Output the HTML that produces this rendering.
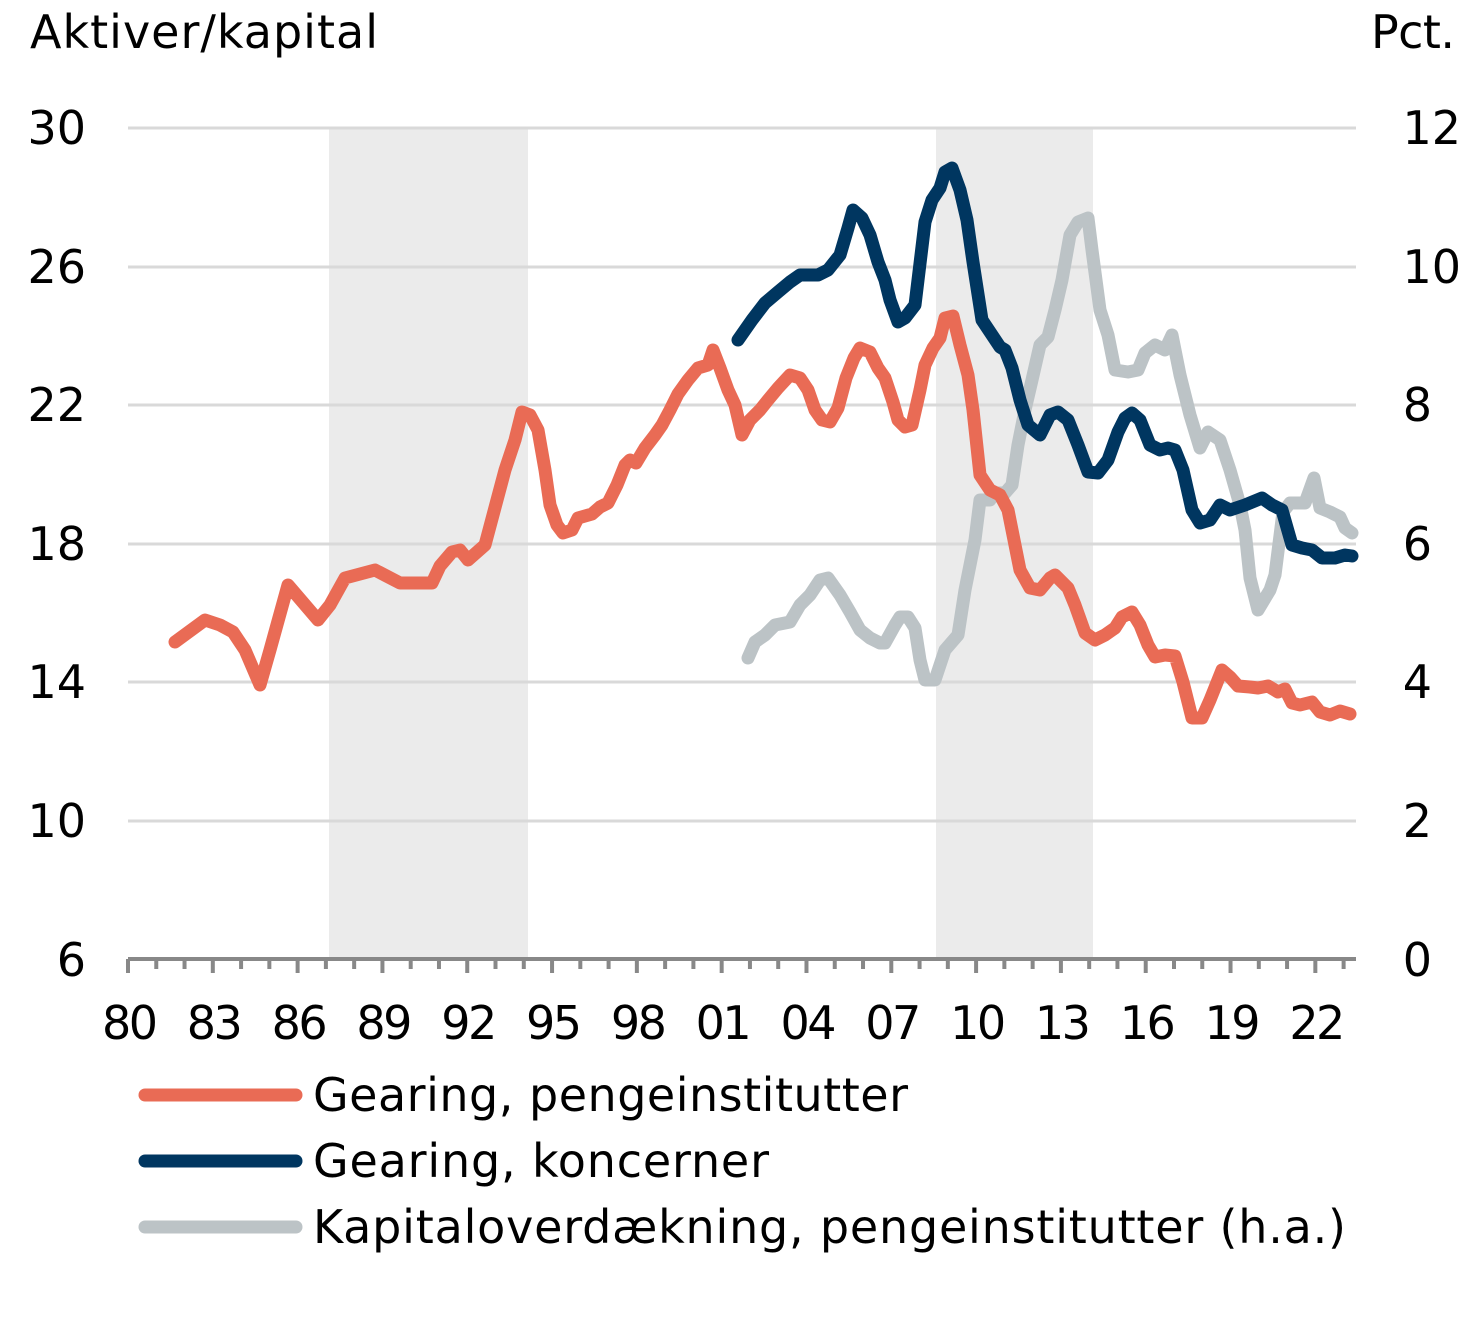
<!DOCTYPE html>
<html><head><meta charset="utf-8"><style>
body{margin:0;background:#fff}
svg{display:block}
text{font-family:"DejaVu Sans","Liberation Sans",sans-serif;fill:#000}
</style></head><body>
<svg width="1477" height="1333" viewBox="0 0 1477 1333" xmlns="http://www.w3.org/2000/svg">
<rect x="329" y="128" width="199" height="832" fill="#ebebeb"/>
<rect x="936" y="128" width="157" height="832" fill="#ebebeb"/>
<g stroke="#d9d9d9" stroke-width="3">
<line x1="128" x2="1356" y1="128" y2="128"/><line x1="128" x2="1356" y1="267" y2="267"/>
<line x1="128" x2="1356" y1="405" y2="405"/><line x1="128" x2="1356" y1="544" y2="544"/>
<line x1="128" x2="1356" y1="682" y2="682"/><line x1="128" x2="1356" y1="821" y2="821"/>
</g>
<g stroke="#888" stroke-width="4">
<line x1="128" x2="1356" y1="959" y2="959"/>
</g>
<g stroke="#888" stroke-width="4" id="ticks"></g>
<g font-size="46">
<text x="30" y="48" textLength="348">Aktiver/kapital</text>
<text x="1371" y="48" textLength="84">Pct.</text>
<g text-anchor="end">
<text x="86" y="144">30</text><text x="86" y="283">26</text><text x="86" y="421">22</text>
<text x="86" y="560">18</text><text x="86" y="698">14</text><text x="86" y="837">10</text><text x="86" y="976">6</text>
</g>
<g text-anchor="end">
<text x="1461" y="144">12</text><text x="1461" y="283">10</text><text x="1432" y="421">8</text>
<text x="1432" y="560">6</text><text x="1432" y="698">4</text><text x="1432" y="837">2</text><text x="1432" y="976">0</text>
</g>
<g text-anchor="middle" id="xl"></g>
</g>
<g fill="none" stroke-width="13" stroke-linejoin="round" stroke-linecap="round">
<polyline stroke="#bcc3c6" points="748,658 755,642 765,635 775,625 790,622 800,605 810,595 820,580 828,578 840,595 850,612 860,630 870,638 880,643 885,643 895,625 900,617 908,617 915,628 920,660 925,680 935,680 945,650 958,635 965,590 975,540 980,500 990,500 995,493 1005,493 1012,485 1018,445 1025,410 1032,380 1040,345 1048,337 1055,310 1062,280 1070,235 1078,222 1088,218 1092,250 1100,310 1108,335 1115,370 1128,372 1138,370 1145,353 1155,345 1165,350 1172,335 1180,375 1190,415 1200,448 1208,432 1220,440 1230,470 1240,505 1245,530 1250,578 1258,610 1270,590 1275,575 1283,512 1290,503 1305,503 1314,478 1320,508 1330,512 1340,517 1345,528 1352,533"/>
<polyline stroke="#e96b55" points="175,642 205,620 220,625 233,632 245,650 260,685 270,650 288,585 318,620 330,605 345,578 375,570 400,583 432,583 440,566 452,552 460,550 468,560 485,545 505,470 515,440 522,412 530,415 538,430 545,470 550,505 557,525 563,533 572,530 578,518 592,514 600,507 608,503 617,485 625,465 630,460 636,463 645,448 655,435 662,425 670,410 678,394 688,380 698,368 708,365 713,350 720,368 728,390 735,405 742,435 750,420 760,410 768,400 778,388 790,375 800,378 808,390 815,410 822,420 830,422 838,408 846,378 854,358 860,348 870,352 878,368 885,378 893,402 898,420 905,427 912,425 920,390 925,365 933,348 940,338 945,318 953,316 960,345 968,375 973,410 980,475 990,490 1000,495 1008,510 1015,545 1020,570 1030,588 1040,590 1050,578 1055,575 1068,588 1075,605 1085,633 1095,640 1105,635 1115,628 1122,617 1132,612 1140,625 1148,645 1155,657 1165,655 1175,656 1183,682 1192,718 1202,718 1210,700 1222,670 1230,677 1238,686 1250,687 1258,688 1268,686 1278,692 1285,689 1292,703 1300,705 1312,702 1320,712 1330,715 1340,711 1350,714"/>
<polyline stroke="#003660" points="738,340 752,320 765,303 778,292 790,282 800,275 818,275 828,270 840,255 848,228 853,210 862,218 870,235 878,262 885,280 890,300 898,322 905,318 915,305 925,222 932,200 940,188 945,172 952,168 960,190 967,220 973,262 982,320 990,332 1000,347 1005,350 1012,368 1020,400 1028,425 1040,435 1050,415 1058,412 1068,420 1078,445 1088,472 1098,473 1108,460 1118,432 1125,418 1132,413 1140,420 1150,445 1160,450 1168,448 1175,450 1183,470 1192,510 1200,523 1210,520 1220,505 1230,510 1245,505 1262,498 1272,505 1282,510 1292,545 1302,548 1312,550 1322,558 1335,558 1345,555 1352,556"/>
<line x1="145" x2="296" y1="1095" y2="1095" stroke="#e96b55"/>
<line x1="145" x2="296" y1="1161" y2="1161" stroke="#003660"/>
<line x1="145" x2="296" y1="1227" y2="1227" stroke="#bcc3c6"/>
</g>
<g font-size="46">
<text x="313" y="1111" textLength="595">Gearing, pengeinstitutter</text>
<text x="313" y="1177" textLength="456">Gearing, koncerner</text>
<text x="313" y="1243" textLength="1033">Kapitaloverdækning, pengeinstitutter (h.a.)</text>
</g>
<script>
var t=document.getElementById('ticks'),xl=document.getElementById('xl'),ns='http://www.w3.org/2000/svg';
for(var i=0;i<=43;i++){var x=128+i*28.27;var l=document.createElementNS(ns,'line');
l.setAttribute('x1',x);l.setAttribute('x2',x);l.setAttribute('y1',959);l.setAttribute('y2',i%3==0?973:969);t.appendChild(l);
if(i%3==0){var s=document.createElementNS(ns,'text');s.setAttribute('x',x+2);s.setAttribute('y',1039);
s.setAttribute('textLength',56);
s.textContent=String((80+i)%100).padStart(2,'0');xl.appendChild(s);}}
</script>
</svg>
</body></html>
